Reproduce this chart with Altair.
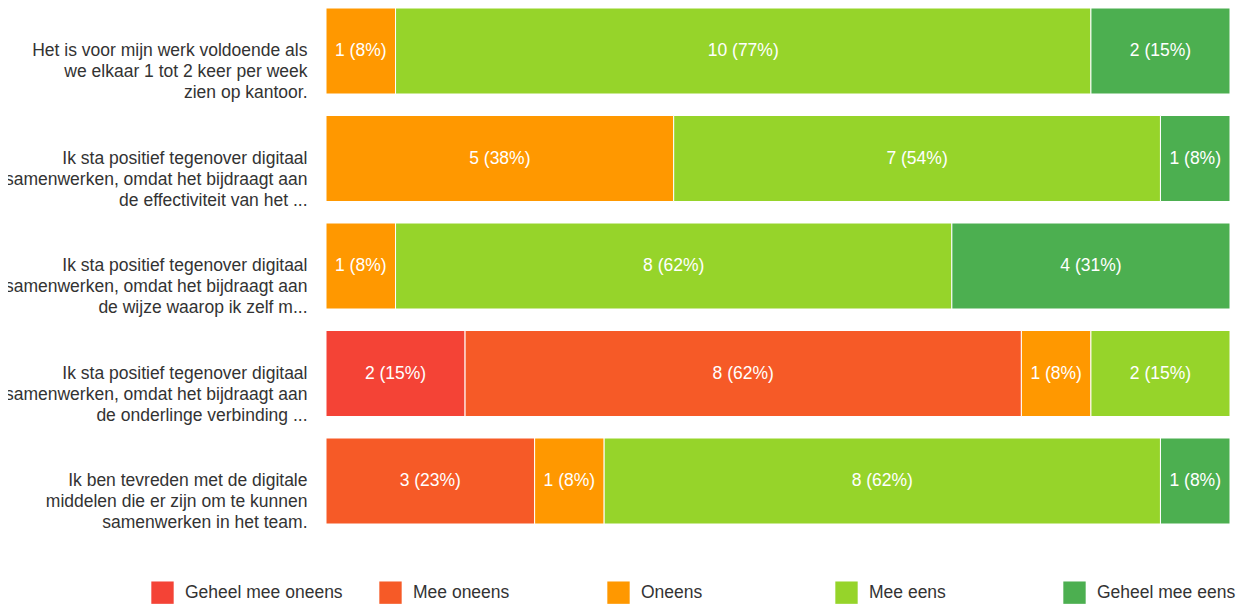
import altair as alt
import pandas as pd

questions = [
    "Het is voor mijn werk voldoende als|we elkaar 1 tot 2 keer per week|zien op kantoor.",
    "Ik sta positief tegenover digitaal|samenwerken, omdat het bijdraagt aan|de effectiviteit van het ...",
    "Ik sta positief tegenover digitaal|samenwerken, omdat het bijdraagt aan|de wijze waarop ik zelf m...",
    "Ik sta positief tegenover digitaal|samenwerken, omdat het bijdraagt aan|de onderlinge verbinding ...",
    "Ik ben tevreden met de digitale|middelen die er zijn om te kunnen|samenwerken in het team.",
]
categories = ["Geheel mee oneens", "Mee oneens", "Oneens", "Mee eens", "Geheel mee eens"]
colors = ["#f44336", "#f65a27", "#ff9800", "#96d42a", "#4caf50"]

geheel_mee_oneens = [0, 0, 0, 2, 0]
mee_oneens = [0, 0, 0, 8, 3]
oneens = [1, 5, 1, 1, 1]
mee_eens = [10, 7, 8, 2, 8]
geheel_mee_eens = [2, 1, 4, 0, 1]

series = [geheel_mee_oneens, mee_oneens, oneens, mee_eens, geheel_mee_eens]

rows = []
for qi, q in enumerate(questions):
    total = sum(s[qi] for s in series)
    for ci, cat in enumerate(categories):
        n = series[ci][qi]
        rows.append({
            "question": q,
            "qord": qi,
            "category": cat,
            "ord": ci,
            "count": n,
            "label": f"{n} ({round(100 * n / total)}%)",
        })
df = pd.DataFrame(rows)

FS = 17.5
FONT = "Liberation Sans"

base = alt.Chart(df).transform_stack(
    stack="count",
    groupby=["question"],
    sort=[alt.SortField("ord", order="ascending")],
    as_=["x0", "x1"],
    offset="normalize",
).transform_filter("datum.count > 0").transform_calculate(
    mid="(datum.x0 + datum.x1) / 2"
)

yenc = alt.Y(
    "question:N",
    sort=questions,
    title=None,
    scale=alt.Scale(paddingInner=0.2, paddingOuter=0),
    axis=alt.Axis(
        domain=False,
        ticks=False,
        grid=False,
        labelPadding=19,
        labelFontSize=FS,
        labelFont=FONT,
        labelColor="#333333",
        labelLimit=500,
        labelAlign="right",
        labelBaseline="middle",
        labelLineHeight=21,
        labelExpr="split(datum.label, '|')",
    ),
)

xscale = alt.Scale(domain=[0, 1], nice=False, zero=False)

bars = base.mark_bar(stroke="white", strokeWidth=1).encode(
    x=alt.X("x0:Q", scale=xscale, axis=None),
    x2="x1:Q",
    y=yenc,
    color=alt.Color(
        "category:N",
        scale=alt.Scale(domain=categories, range=colors),
        sort=categories,
        legend=alt.Legend(
            title=None,
            orient="none",
            legendX=-175,
            legendY=573,
            direction="horizontal",
            columns=5,
            gridAlign="all",
            columnPadding=36,
            symbolType="square",
            symbolSize=500,
            symbolStrokeWidth=0,
            symbolOpacity=1,
            labelFontSize=FS,
            labelFont=FONT,
            labelColor="#333333",
            labelOffset=11,
            labelLimit=300,
            padding=0,
        ),
    ),
)

texts = base.mark_text(color="white", fontSize=FS, font=FONT).encode(
    x=alt.X("mid:Q", scale=xscale, axis=None),
    y=alt.Y("question:N", sort=questions),
    text="label:N",
)

chart = alt.layer(bars, texts).properties(
    width=904,
    height=516,
    padding={"left": 318, "top": 0, "right": 7, "bottom": 80},
    autosize=alt.AutoSizeParams(type="none"),
).configure_view(stroke=None)

chart.save("out.html", embed_options={"renderer": "svg", "actions": False})
